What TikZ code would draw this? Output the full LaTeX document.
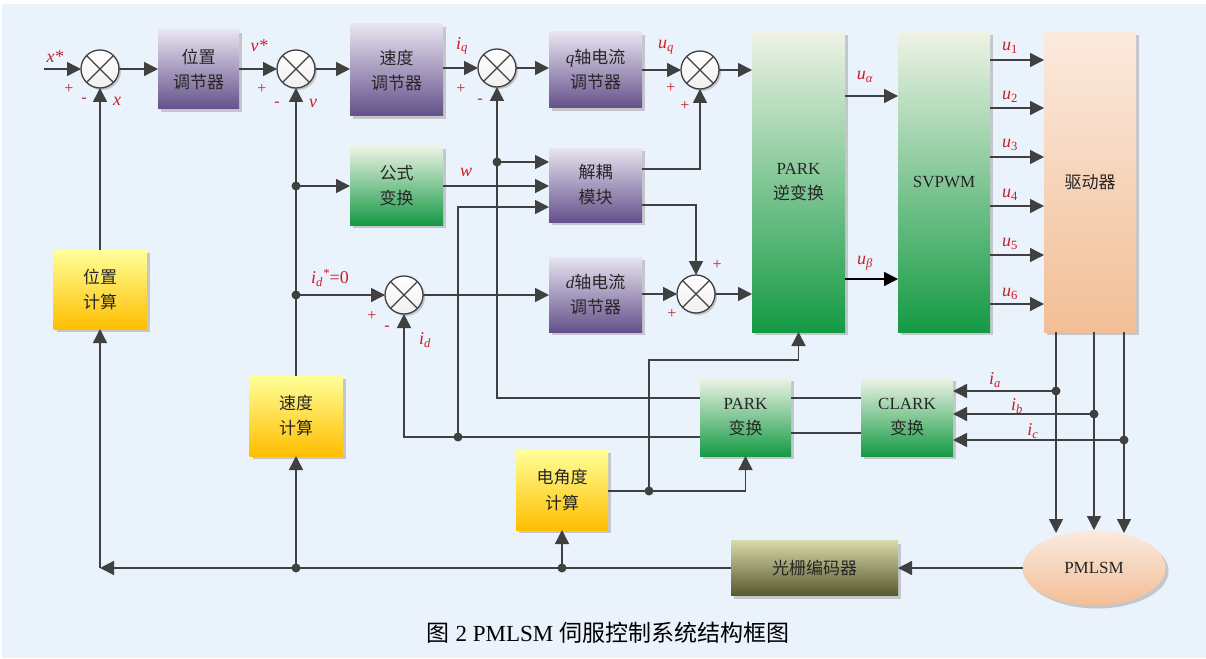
\documentclass[tikz,border=0pt]{standalone}
\usepackage{fontspec}
\setmainfont{Liberation Serif}
\newfontfamily\cjk{Noto Sans CJK SC}
\usetikzlibrary{arrows.meta,shadows,shapes.geometric}
\definecolor{bg}{RGB}{234,242,251}
\definecolor{ln}{RGB}{64,64,64}
\definecolor{lbl}{RGB}{200,30,40}
\definecolor{purT}{RGB}{232,228,240}
\definecolor{purB}{RGB}{100,80,138}
\definecolor{grnT}{RGB}{238,243,230}
\definecolor{grnB}{RGB}{20,154,68}
\definecolor{yelT}{RGB}{255,255,153}
\definecolor{yelB}{RGB}{255,190,0}
\definecolor{pchT}{RGB}{251,234,222}
\definecolor{pchB}{RGB}{242,190,150}
\definecolor{olvT}{RGB}{216,218,170}
\definecolor{olvB}{RGB}{88,88,46}
\definecolor{shd}{RGB}{196,198,204}
\begin{document}
\begin{tikzpicture}[x=1pt,y=-1pt,
  blk/.style={rectangle, inner sep=0pt, outer sep=0pt, align=center,
    font=\fontsize{17}{25}\selectfont\cjk, text=black!85,
    drop shadow={shadow xshift=3pt,shadow yshift=-3pt,fill=shd,opacity=1}},
  pur/.style={blk, top color=purT, bottom color=purB},
  grn/.style={blk, top color=grnT, bottom color=grnB},
  yel/.style={blk, top color=yelT, bottom color=yelB},
  pch/.style={blk, top color=pchT, bottom color=pchB},
  olv/.style={blk, top color=olvT, bottom color=olvB},
  sum/.style={circle, draw=ln, line width=1.3pt, top color=white, bottom color=black!6,
    minimum size=38pt, inner sep=0pt, outer sep=0pt,
    drop shadow={shadow xshift=2pt,shadow yshift=-2pt,fill=shd,opacity=1}},
  conn/.style={draw=ln, line width=1.5pt},
  arr/.style={conn, -{Triangle[length=14pt,width=14pt]}},
  lab/.style={text=lbl, inner sep=0pt, font=\fontsize{18}{18}\selectfont\itshape},
  sgn/.style={text=lbl, inner sep=0pt, font=\fontsize{16}{16}\selectfont},
]
\useasboundingbox (0,0) rectangle (1206,658);
\fill[white] (0,0) rectangle (1206,658);
\fill[bg] (2,4) rectangle (1206,658);

% blocks
\node[pur, minimum width=81pt, minimum height=79pt] (preg) at (198.5,69.5) {位置\\调节器};
\node[pur, minimum width=93pt, minimum height=92pt] (sreg) at (396.5,70) {速度\\调节器};
\node[pur, minimum width=93pt, minimum height=76pt] (qreg) at (595.5,70) {{\rmfamily\itshape q}轴电流\\调节器};
\node[grn, minimum width=93pt, minimum height=300pt] (ipark) at (798.5,182) {{\rmfamily PARK}\\逆变换};
\node[grn, minimum width=92pt, minimum height=300pt] (svpwm) at (944,182) {\rmfamily SVPWM};
\node[pch, minimum width=92pt, minimum height=300pt] (drv) at (1090,182) {驱动器};
\node[grn, minimum width=93pt, minimum height=79pt] (form) at (396.5,185.5) {公式\\变换};
\node[pur, minimum width=93pt, minimum height=74pt] (dec) at (595.5,185) {解耦\\模块};
\node[pur, minimum width=93pt, minimum height=75pt] (dreg) at (595.5,294.5) {{\rmfamily\itshape d}轴电流\\调节器};
\node[yel, minimum width=93pt, minimum height=79pt] (pcalc) at (100,289.5) {位置\\计算};
\node[yel, minimum width=93pt, minimum height=80pt] (scalc) at (296,416) {速度\\计算};
\node[yel, minimum width=92pt, minimum height=80pt] (acalc) at (562,490) {电角度\\计算};
\node[grn, minimum width=91pt, minimum height=78pt] (park) at (745.5,417) {{\rmfamily PARK}\\变换};
\node[grn, minimum width=92pt, minimum height=78pt] (clark) at (907,417) {{\rmfamily CLARK}\\变换};
\node[olv, minimum width=167pt, minimum height=55pt] (enc) at (814.5,568) {光栅编码器};
\node[pch, ellipse, minimum width=143pt, minimum height=75pt] (pm) at (1094,568) {\rmfamily PMLSM};

% summing junctions
\node[sum] (s1) at (100,69) {};
\node[sum] (s2) at (296,69) {};
\node[sum] (s3) at (497,68) {};
\node[sum] (s4) at (700,70) {};
\node[sum] (s5) at (696,294) {};
\node[sum] (s6) at (404,295) {};
\foreach \s in {s1,s2,s3,s4,s5,s6}
  \draw[ln, line width=1.2pt] (\s.north west) -- (\s.south east) (\s.north east) -- (\s.south west);

% junction points
\coordinate (xin) at (44,69);
\coordinate (j1) at (296,186);
\coordinate (j2) at (296,295);
\coordinate (j3) at (497,162);
\coordinate (j4) at (458,437);
\coordinate (j5) at (649,491);
\coordinate (j6) at (296,568);
\coordinate (j7) at (562,568);
\coordinate (ja) at (1056,391);
\coordinate (jb) at (1094,414);
\coordinate (jc) at (1124,440);
\coordinate (cL) at (100,568);
\coordinate (pa) at (1056,533);
\coordinate (pb) at (1094,530);
\coordinate (pc) at (1124,533);

% forward path
\draw[arr] (xin) -- (s1.west);
\draw[arr] (s1.east) -- (s1.east -| preg.west);
\draw[arr] (preg.east |- s2) -- (s2.west);
\draw[arr] (s2.east) -- (s2.east -| sreg.west);
\draw[arr] (sreg.east |- s3) -- (s3.west);
\draw[arr] (s3.east) -- (s3.east -| qreg.west);
\draw[arr] (qreg.east |- s4) -- (s4.west);
\draw[arr] (s4.east) -- (s4.east -| ipark.west);
\draw[arr] (ipark.east |- 0,96) -- (svpwm.west |- 0,96);
\draw[arr, draw=black] (ipark.east |- 0,279) -- (svpwm.west |- 0,279);
\foreach \y in {60,108,157,206,255,304}
  \draw[arr] (svpwm.east |- 0,\y) -- (drv.west |- 0,\y);

% feedback and cross paths
\draw[arr] (pcalc.north) -- (s1.south);
\draw[arr] (scalc.north) -- (s2.south);
\draw[arr] (j1) -- (j1 -| form.west);
\draw[arr] (j2) -- (s6.west);
\draw[arr] (form.east |- j1) -- (dec.west |- j1);
\draw[arr] (j3) -- (j3 -| dec.west);
\draw[arr] (dec.east |- 0,169) -| (s4.south);
\draw[arr] (dec.east |- 0,205) -| (s5.north);
\draw[arr] (s6.east) -- (s6.east -| dreg.west);
\draw[arr] (dreg.east |- s5) -- (s5.west);
\draw[arr] (s5.east) -- (s5.east -| ipark.west);
\draw[arr] (park.west |- 0,398) -| (s3.south);
\draw[arr] (park.west |- 0,437) -| (s6.south);
\draw[arr] (j4) |- (dec.west |- 0,207);
\draw[conn] (clark.west |- 0,398) -- (park.east |- 0,398);
\draw[conn] (clark.west |- 0,433) -- (park.east |- 0,433);
\draw[arr] (acalc.east |- j5) -- (j5) -| (park.south);
\draw[arr] (j5) -- (j5 |- 0,360) -| (ipark.south);
\draw[arr] (drv.south -| pa) -- (pa);
\draw[arr] (drv.south -| pb) -- (pb);
\draw[arr] (drv.south -| pc) -- (pc);
\draw[arr] (ja) -- (ja -| clark.east);
\draw[arr] (jb) -- (jb -| clark.east);
\draw[arr] (jc) -- (jc -| clark.east);
\draw[arr] (pm.west) -- (enc.east);
\draw[arr] (enc.west) -- (cL);
\draw[arr] (cL) -- (pcalc.south);
\draw[arr] (j6) -- (scalc.south);
\draw[arr] (j7) -- (acalc.south);

\foreach \j in {j1,j2,j3,j4,j5,j6,j7,ja,jb,jc}
  \fill[ln] (\j) circle (4.5pt);

% signal labels
\node[lab] (lx) at (55,57) {x*};
\node[lab] (lxf) at (117,101) {x};
\node[lab] (lv) at (259,46) {v*};
\node[lab] (lvf) at (313,103) {v};
\node[lab] (liq) at (462,46) {i\textsubscript{q}};
\node[lab] (luq) at (666,47) {u\textsubscript{q}};
\node[lab] (lua) at (865,77) {u\textsubscript{α}};
\node[lab] (lub) at (865,263) {u\textsubscript{β}};
\foreach \i/\y in {1/48,2/97,3/145,4/195,5/244,6/294}
  \node[lab] (lu\i) at (1010,\y) {u\textsubscript{\upshape\i}};
\node[lab] (lw) at (466,172) {w};
\node[lab] (lid0) at (330,278) {i\textsubscript{d}\textsuperscript{*}\upshape=0};
\node[lab] (lid) at (425,340) {i\textsubscript{d}};
\node[lab] (lia) at (995,380) {i\textsubscript{a}};
\node[lab] (lib) at (1017,406) {i\textsubscript{b}};
\node[lab] (lic) at (1033,431) {i\textsubscript{c}};

% signs
\node[sgn] (p1) at (69,89) {+};
\node[sgn] (m1) at (84,100) {-};
\node[sgn] (p2) at (262,89) {+};
\node[sgn] (m2) at (277,104) {-};
\node[sgn] (p3) at (461,89) {+};
\node[sgn] (m3) at (480,101) {-};
\node[sgn] (p4) at (671,88) {+};
\node[sgn] (p5) at (685,106) {+};
\node[sgn] (p6) at (717,265) {+};
\node[sgn] (p7) at (672,314) {+};
\node[sgn] (p8) at (372,316) {+};
\node[sgn] (m4) at (387,328) {-};

% caption
\node[inner sep=0pt, font=\fontsize{23}{23}\selectfont] (cap) at (608,633) {{\cjk 图} 2 PMLSM {\cjk 伺服控制系统结构框图}};
\end{tikzpicture}
\end{document}
